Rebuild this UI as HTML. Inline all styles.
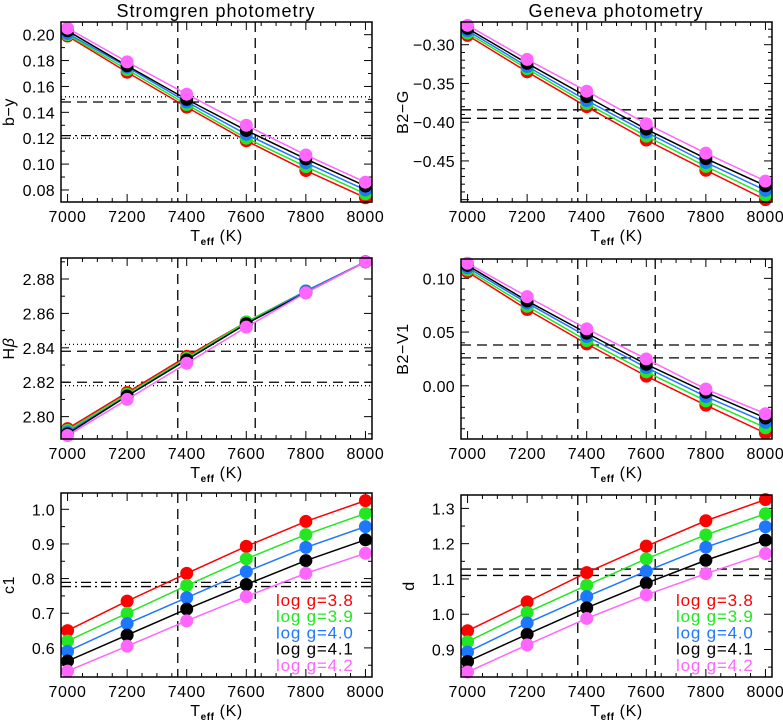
<!DOCTYPE html>
<html><head><meta charset="utf-8"><style>
body{margin:0;background:#fff}
svg text{font-family:"Liberation Sans",sans-serif;fill:#000}
</style></head><body>
<svg id="fig" width="783" height="721" viewBox="0 0 783 721" xmlns="http://www.w3.org/2000/svg">
<text x="216" y="17" font-size="18" letter-spacing="1" text-anchor="middle">Stromgren  photometry</text>
<text x="616" y="17" font-size="18" letter-spacing="1" text-anchor="middle">Geneva  photometry</text>
</svg>
<script>
const temps = [7000,7200,7400,7600,7800,8000];
const xTicks = [7000,7200,7400,7600,7800,8000];
const groups = ['log  g=3.8','log  g=3.9','log  g=4.0','log  g=4.1','log  g=4.2'];
const colors = ['#ff0000','#22e822','#1e78ff','#000000','#ff66ff'];
const teffLines = [7370,7630];

const byVals = [[.199,.171,.144,.118,.095,.074],[.200,.173,.146,.120,.098,.077],[.201,.175,.148,.123,.101,.080],[.203,.176,.150,.126,.104,.083],[.205,.179,.154,.130,.107,.086]];
const hbVals = [[2.793,2.814,2.835,2.855,2.873,2.890],[2.792,2.813,2.834,2.855,2.873,2.890],[2.791,2.812,2.833,2.854,2.873,2.890],[2.790,2.812,2.833,2.854,2.872,2.890],[2.789,2.810,2.831,2.852,2.872,2.890]];
const c1Vals = [[.65,.735,.815,.893,.965,1.025],[.62,.70,.78,.857,.927,.988],[.59,.67,.745,.82,.89,.95],[.562,.637,.712,.783,.852,.912],[.533,.605,.678,.748,.815,.873]];
const bgVals = [[-.288,-.335,-.380,-.423,-.462,-.500],[-.285,-.331,-.376,-.418,-.457,-.494],[-.282,-.328,-.372,-.413,-.452,-.488],[-.279,-.324,-.367,-.409,-.447,-.482],[-.275,-.319,-.360,-.402,-.440,-.476]];
const bvVals = [[.106,.071,.039,.009,-.018,-.044],[.108,.074,.042,.013,-.014,-.039],[.110,.077,.046,.017,-.010,-.034],[.112,.079,.049,.020,-.006,-.030],[.114,.083,.053,.025,-.003,-.026]];
const dVals = [[.953,1.035,1.118,1.193,1.265,1.325],[.922,1.005,1.082,1.157,1.225,1.285],[.893,.975,1.05,1.122,1.19,1.248],[.866,.943,1.018,1.088,1.153,1.21],[.836,.913,.988,1.055,1.115,1.172]];

const byTicks = [0.08,0.10,0.12,0.14,0.16,0.18,0.20];
const hbTicks = [2.80,2.82,2.84,2.86,2.88];
const c1Ticks = [0.6,0.7,0.8,0.9,1.0];
const bgTicks = [-0.45,-0.40,-0.35,-0.30];
const bvTicks = [0.00,0.05,0.10];
const dTicks = [0.9,1.0,1.1,1.2,1.3];

const byRefs = [[0.152,'1,3'],[0.148,'10,6'],[0.122,'10,4,2,4'],[0.120,'1,3']];
const hbRefs = [[2.842,'1,3'],[2.838,'10,6'],[2.820,'10,6'],[2.818,'1,3']];
const c1Refs = [[0.789,'10,4,2,4'],[0.777,'10,4,2,4']];
const bgRefs = [[-0.384,'10,6'],[-0.395,'10,6']];
const bvRefs = [[0.038,'10,6'],[0.026,'10,6']];
const dRefs = [[1.128,'10,6'],[1.110,'10,6']];

const NS='http://www.w3.org/2000/svg';
const svg=document.getElementById('fig');
function mk(tag,attrs,parent){const e=document.createElementNS(NS,tag);for(const k in attrs)e.setAttribute(k,attrs[k]);(parent||svg).appendChild(e);return e;}

function panel(id,box,ymin,ymax,yTicks,dec,ylabel,vals,refs,minorY,legend,titleOff){
  const [L,T,R,B]=box;
  const g=mk('g',{});
  
  
  const xs=t=>L+(t-6978)/(8022-6978)*(R-L);
  const ys=v=>B-(v-ymin)/(ymax-ymin)*(B-T);
  for(let t=7000;t<=8000;t+=50){
    const maj=t%200===0, len=maj?8:4;
    mk('line',{x1:xs(t),x2:xs(t),y1:B,y2:B-len,stroke:'#000','stroke-width':1},g);
    mk('line',{x1:xs(t),x2:xs(t),y1:T,y2:T+len,stroke:'#000','stroke-width':1},g);
  }
  xTicks.forEach(t=>{
    const tx=mk('text',{x:xs(t),y:B+20,'font-size':16,'letter-spacing':0.6,'text-anchor':'middle'},g);
    tx.textContent=t;
    
    
  });
  const step=yTicks[1]-yTicks[0];
  const mstep=step/minorY;
  for(let v=yTicks[0]-step;v<=ymax+1e-9;v+=mstep){
    if(v<ymin-1e-9)continue;
    const k=Math.round((v-yTicks[0])/mstep);
    const maj=k%minorY===0,len=maj?8:4;
    mk('line',{x1:L,x2:L+len,y1:ys(v),y2:ys(v),stroke:'#000','stroke-width':1},g);
    mk('line',{x1:R,x2:R-len,y1:ys(v),y2:ys(v),stroke:'#000','stroke-width':1},g);
  }
  yTicks.forEach(v=>{
    const tx=mk('text',{x:L-6,y:ys(v)+6,'font-size':16,'letter-spacing':0.3,'text-anchor':'end'},g);
    tx.textContent=v.toFixed(dec).replace('-','\u2212');
    
    
  });
  const yl=mk('text',{x:0,y:0,'font-size':16,'letter-spacing':0.6,'text-anchor':'middle',transform:`translate(${L-titleOff},${(T+B)/2}) rotate(-90)`},g);
  yl.innerHTML=ylabel;
  
  
  const xl=mk('text',{x:(L+R)/2,y:B+39,'font-size':16,'letter-spacing':0.6,'text-anchor':'middle'},g);
  xl.innerHTML='T<tspan font-size="10" dy="4" font-weight="bold">eff</tspan><tspan dy="-4">  (K)</tspan>';
  
  
  teffLines.forEach(t=>{
    const l=mk('line',{x1:xs(t),x2:xs(t),y1:T,y2:B,stroke:'#000','stroke-width':1.3,'stroke-dasharray':'10,6'},g);
    
    
  });
  refs.forEach(r=>{
    const l=mk('line',{x1:L,x2:R,y1:ys(r[0]),y2:ys(r[0]),stroke:'#000','stroke-width':1.3,'stroke-dasharray':r[1]},g);
    
    
  });
  vals.forEach((s,i)=>{
    const pl=mk('polyline',{points:s.map((v,j)=>xs(temps[j])+','+ys(v)).join(' '),fill:'none',stroke:colors[i],'stroke-width':1.5},g);
    
    
    s.forEach((v,j)=>{
      const c=mk('circle',{cx:xs(temps[j]),cy:ys(v),r:6.5,fill:colors[i]},g);
      
      
    });
  });
  if(legend){
    groups.forEach((gname,i)=>{
      const tx=mk('text',{x:L+215,y:B-71+i*16.2,'font-size':17,'letter-spacing':0.8},g);
      tx.setAttribute('style','fill:'+colors[i]);
      tx.textContent=gname;
      
      
    });
  }
  mk('rect',{x:L,y:T,width:R-L,height:B-T,fill:'none',stroke:'#000','stroke-width':1.5},g);
}
panel('b-y',[61,22,372,202],0.0707,0.2098,byTicks,2,'b\u2212y',byVals,byRefs,2,false,47);
panel('hbeta',[61,258,372,439],2.787,2.8922,hbTicks,2,'H<tspan font-style="italic">β</tspan>',hbVals,hbRefs,2,false,47);
panel('c1',[61,493,372,677],0.516,1.047,c1Ticks,1,'c1',c1Vals,c1Refs,2,true,47);
panel('b2-g',[461,22,772,202],-0.503,-0.2707,bgTicks,2,'B2\u2212G',bgVals,bgRefs,5,false,53);
panel('b2-v1',[461,259,772,439],-0.0495,0.118,bvTicks,2,'B2\u2212V1',bvVals,bvRefs,5,false,53);
panel('d',[461,495,772,677],0.822,1.338,dTicks,1,'d',dVals,dRefs,2,true,47);
</script>
</body></html>
